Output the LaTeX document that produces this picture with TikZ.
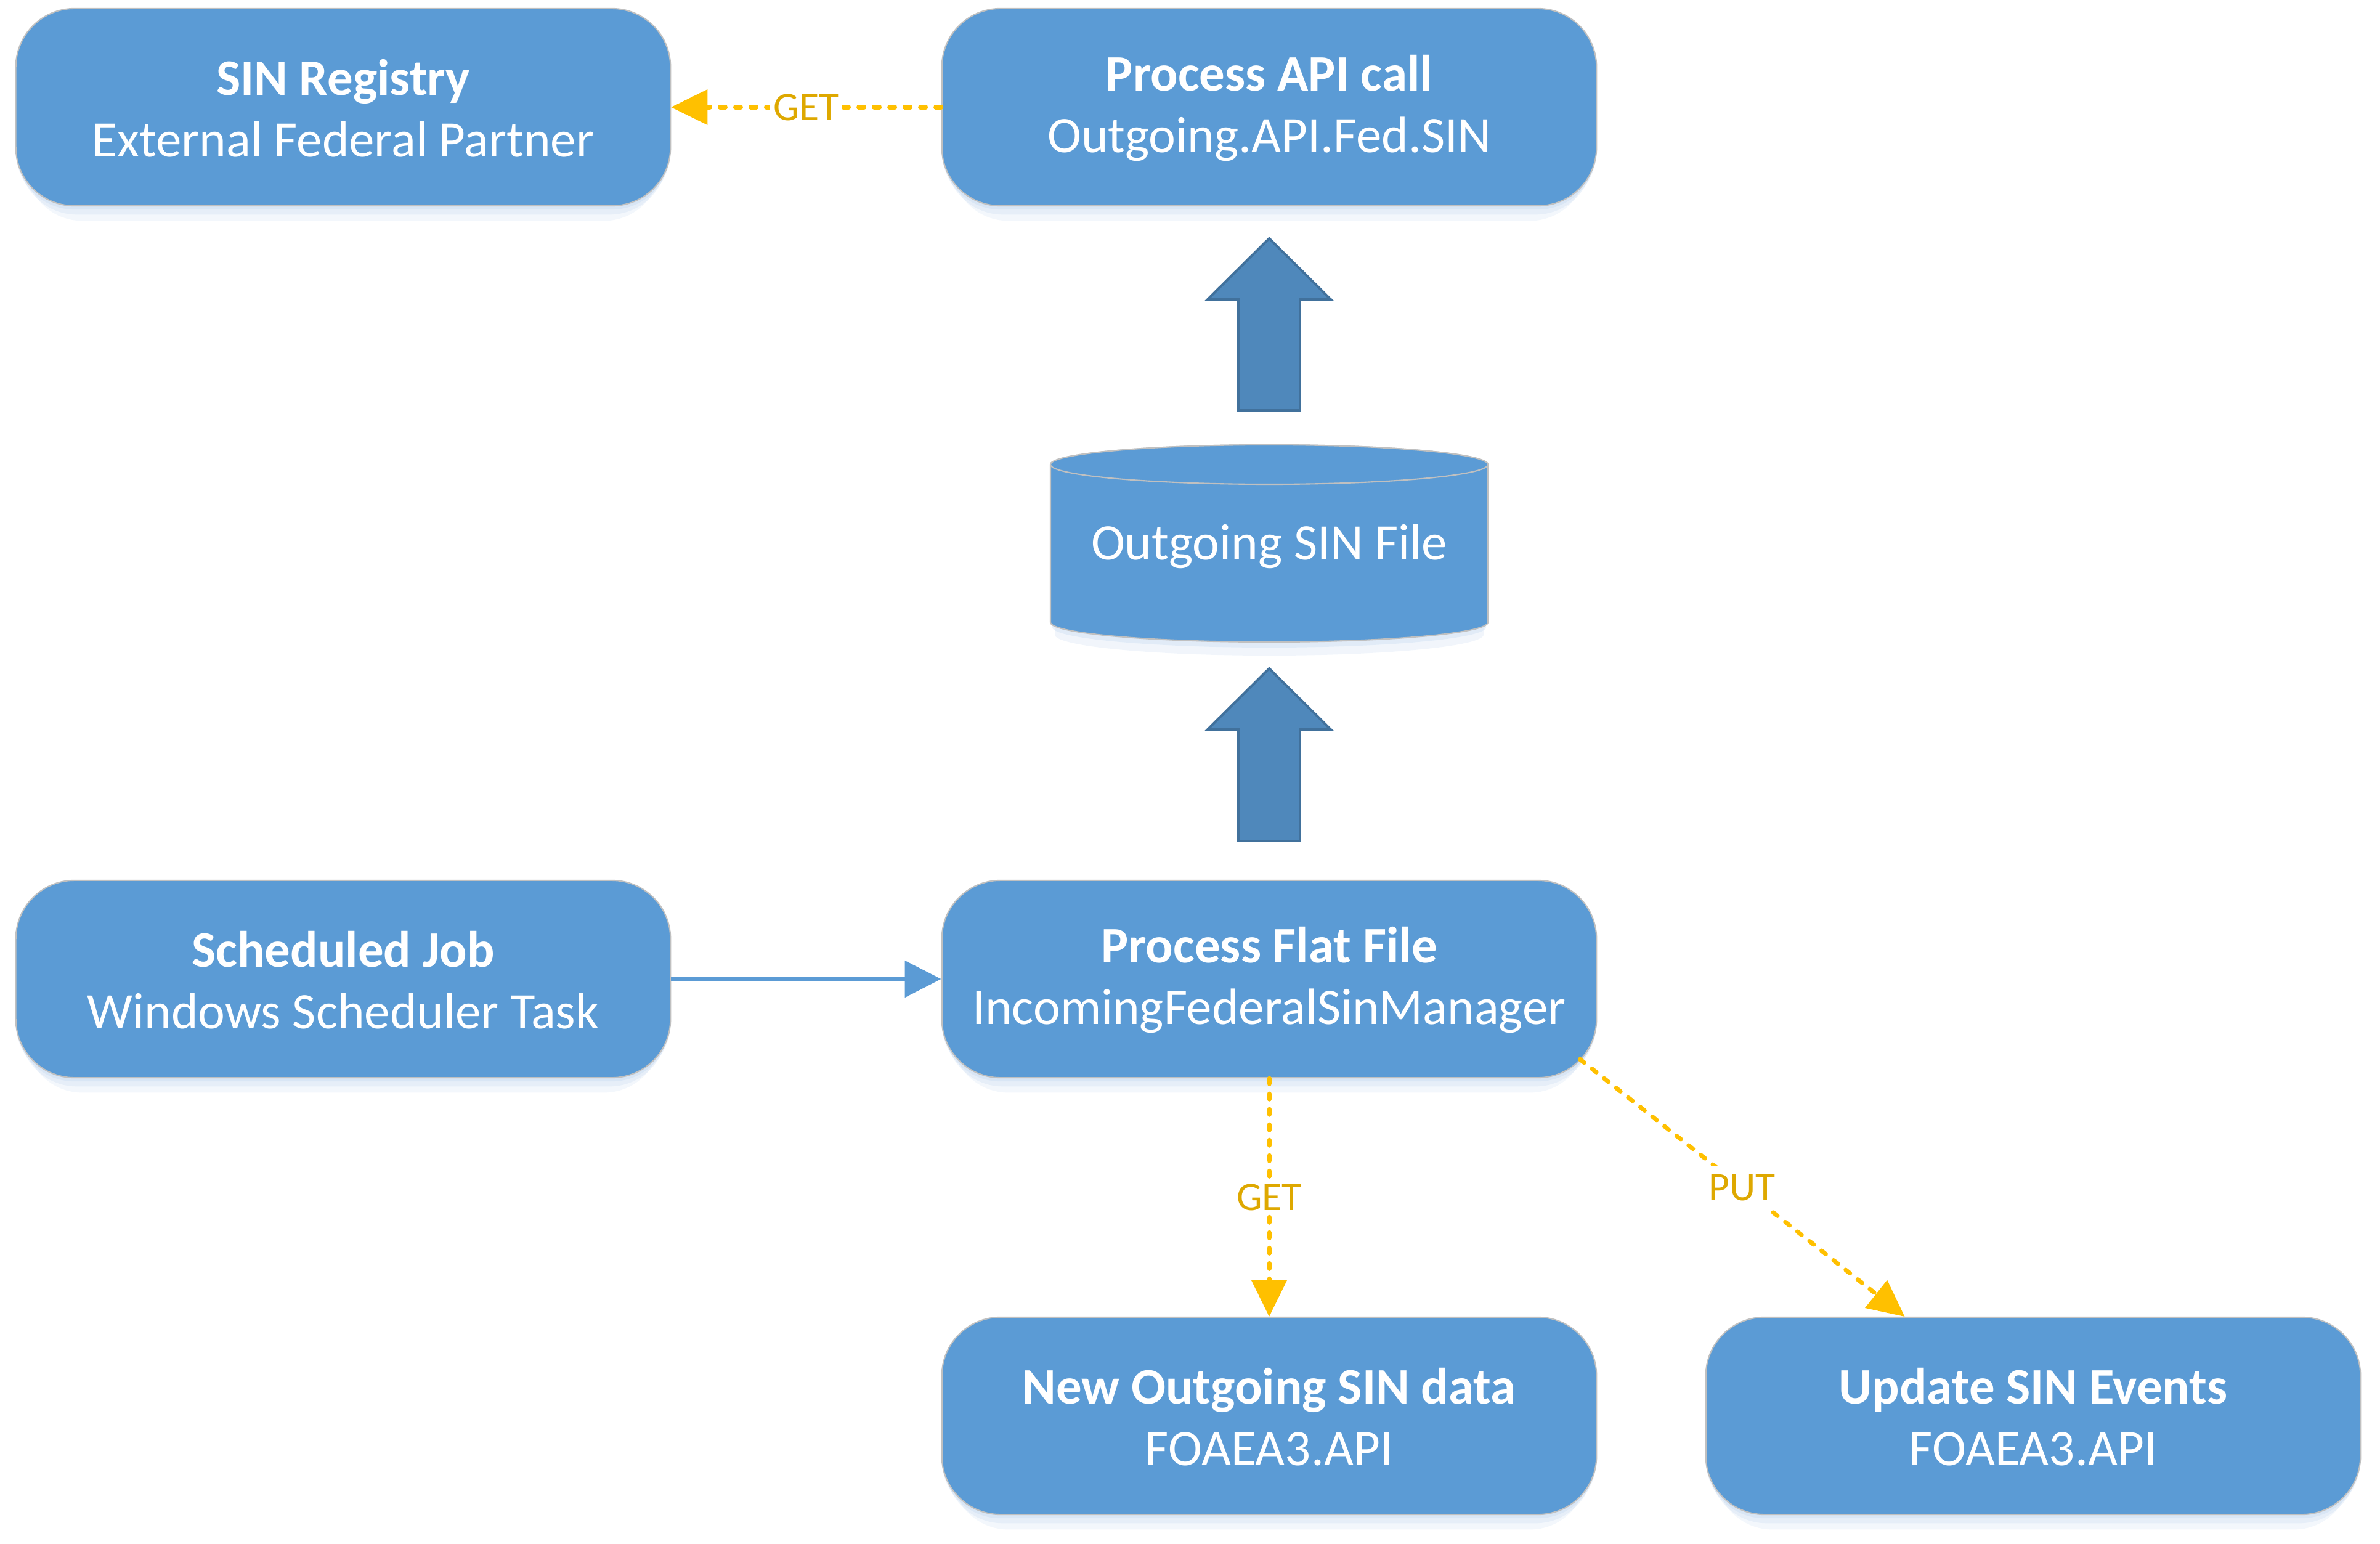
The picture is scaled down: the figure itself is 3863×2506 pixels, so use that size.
\documentclass[tikz,border=0pt]{standalone}
\usepackage{fontspec}
\setmainfont{Carlito}
\usetikzlibrary{arrows.meta,shadows,calc}
\definecolor{boxblue}{HTML}{5B9BD5}
\definecolor{boxline}{HTML}{C0C0C0}
\definecolor{blockfill}{HTML}{4F88BB}
\definecolor{blockline}{HTML}{41719C}
\definecolor{gold}{HTML}{FFC000}
\definecolor{goldtext}{HTML}{DEA800}
\definecolor{shadowblue}{HTML}{BDD3EE}
\newcommand\boxstrut{\rule{0pt}{17.5pt}}
\tikzset{
  softshadow/.style={
    general shadow={fill=shadowblue, opacity=0.18, shadow yshift=-0.30cm, shadow scale=0.97},
    general shadow={fill=shadowblue, opacity=0.25, shadow yshift=-0.16cm, shadow scale=0.99},
    general shadow={fill=shadowblue, opacity=0.30, shadow yshift=-0.06cm}},
  procbox/.style={rectangle, rounded corners=27pt, fill=boxblue, draw=boxline,
    line width=0.6pt, minimum width=10.62cm, minimum height=3.2cm,
    text=white, align=center, inner sep=0pt, softshadow,
    font=\fontsize{23.6}{28.3}\selectfont},
  blockarrow/.style={fill=blockfill, draw=blockline, line width=1.1pt, line join=miter},
  goldflow/.style={draw=gold, line width=0.07cm, line cap=round,
    dash pattern=on 0.09cm off 0.16cm,
    -{Triangle[length=0.59cm, width=0.58cm, fill=gold, line width=0pt]}},
  goldlabel/.style={fill=white, text=goldtext, inner sep=0.06cm,
    font=\fontsize{18.7}{22}\selectfont},
  blueflow/.style={draw=boxblue, line width=0.08cm,
    -{Triangle[length=0.59cm, width=0.58cm]}}
}
\begin{document}
\begin{tikzpicture}[x=0.01cm, y=-0.01cm]
\useasboundingbox (0,0) rectangle (3863,2506);

% nodes
\node[procbox] (reg) at (557,174) {\boxstrut\textbf{SIN Registry}\\External Federal Partner};
\node[procbox] (api) at (2060,174) {\boxstrut\textbf{Process API call}\\Outgoing.API.Fed.SIN};
\node[procbox] (sched) at (557,1589) {\boxstrut\textbf{Scheduled Job}\\Windows Scheduler Task};
\node[procbox] (flat) at (2060,1589) {\boxstrut\textbf{Process Flat File}\\IncomingFederalSinManager};
\node[procbox] (newd) at (2060,2298) {\boxstrut\textbf{New Outgoing SIN data}\\FOAEA3.API};
\node[procbox] (upd) at (3300,2298) {\boxstrut\textbf{Update SIN Events}\\FOAEA3.API};

% cylinder (y axis points down: arc 180 -> 0 runs through the lower side)
\fill[shadowblue, opacity=0.22] (1712,770) -- (1712,1030) arc[start angle=180, end angle=0, x radius=348, y radius=34] -- (2408,770) -- cycle;
\fill[shadowblue, opacity=0.30] (1708,770) -- (1708,1018) arc[start angle=180, end angle=0, x radius=352, y radius=33] -- (2412,770) -- cycle;
\filldraw[fill=boxblue, draw=boxline, line width=0.6pt]
  (1705,754) -- (1705,1010) arc[start angle=180, end angle=0, x radius=355, y radius=32]
  -- (2415,754) arc[start angle=0, end angle=-180, x radius=355, y radius=32] -- cycle;
\filldraw[fill=boxblue, draw=boxline, line width=0.6pt]
  (2060,754) ellipse[x radius=355, y radius=32];
\node[text=white, font=\fontsize{23.6}{28.3}\selectfont] (file) at (2060,887) {Outgoing SIN File};

% block arrows
\filldraw[blockarrow] (2060,387) -- (2160,486) -- (2110,486) -- (2110,666)
  -- (2010,666) -- (2010,486) -- (1960,486) -- cycle;
\filldraw[blockarrow] (2060,1085) -- (2160,1184) -- (2110,1184) -- (2110,1365)
  -- (2010,1365) -- (2010,1184) -- (1960,1184) -- cycle;

% connectors
\draw[blueflow] (sched.east) -- (flat.west);
\draw[goldflow] (api.west) -- node[goldlabel] {GET} (reg.east);
\draw[goldflow] (flat.south) -- node[goldlabel] {GET} (newd.north);
\coordinate (putstart) at ($(flat.south east)+(-28,-31)$);
\coordinate (putend) at ($(upd.north west)!0.304!(upd.north east)$);
\draw[goldflow] (putstart) -- node[goldlabel, inner sep=0.14cm] {PUT} (putend);
\end{tikzpicture}
\end{document}
